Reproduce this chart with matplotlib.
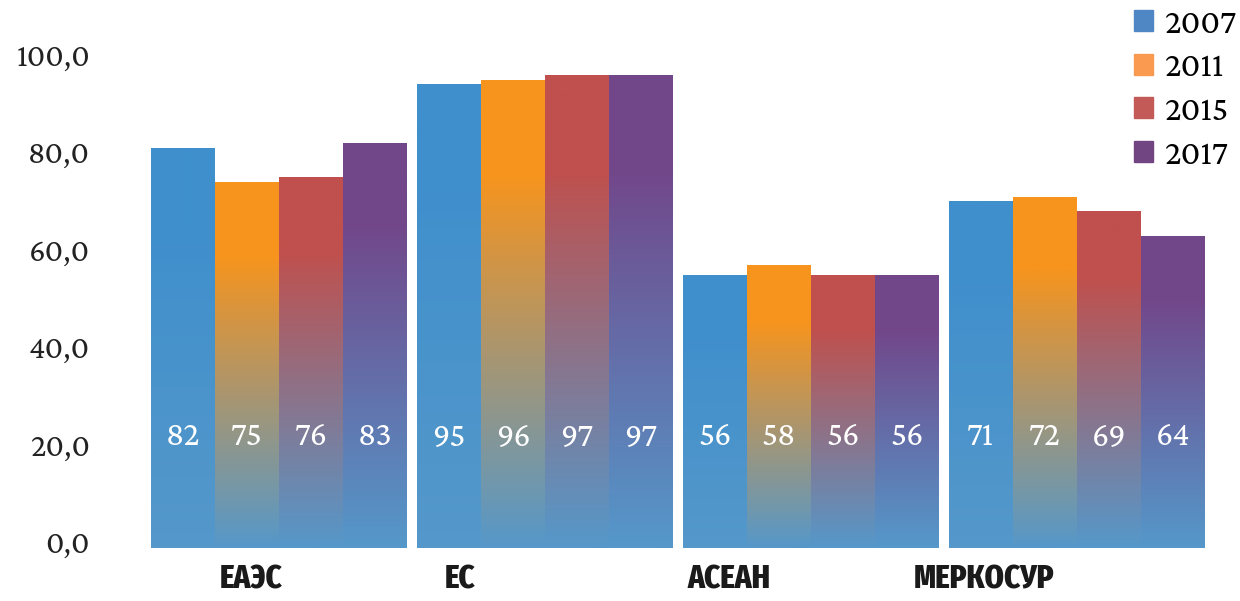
import numpy as np
import matplotlib
matplotlib.use('Agg')
import matplotlib.pyplot as plt
from matplotlib.colors import to_rgb
from matplotlib.patches import Patch
from matplotlib.transforms import ScaledTranslation

groups = ['ЕАЭС', 'ЕС', 'АСЕАН', 'МЕРКОСУР']
years = ['2007', '2011', '2015', '2017']
values = {
    '2007': [82, 95, 56, 71],
    '2011': [75, 96, 58, 72],
    '2015': [76, 97, 56, 69],
    '2017': [83, 97, 56, 64],
}
yticks = [0, 20, 40, 60, 80, 100]

# colours
top_colors = ['#3F8FCD', '#F7941D', '#C0504D', '#72478A']
legend_colors = ['#4F87C4', '#F99A50', '#C35A57', '#714482']
bottom_color = '#5598CA'
label_offsets = [-0.105, -0.32, -0.31, -0.35]

serif = ['Crimson Pro', 'Crimson Text', 'EB Garamond', 'Liberation Serif']
narrow = ['Fira Sans Extra Condensed', 'Roboto Condensed', 'Oswald',
          'IBM Plex Sans Condensed', 'DejaVu Sans']

fig = plt.figure(figsize=(12.4, 6.01), dpi=100)
ax = fig.add_axes([140 / 1240, 53 / 601, (1215 - 140) / 1240, 487.5 / 601])

x = np.arange(len(groups))
w = 64 / 266

def gradient(top, n=200):
    t = np.linspace(0, 1, n)
    k = np.clip(t / 0.8, 0, 1)[:, None]
    c0 = np.array(to_rgb(bottom_color))
    c1 = np.array(to_rgb(top))
    return (c0 * (1 - k) + c1 * k)[:, None, :]

for i, yr in enumerate(years):
    pos = x - 1.5 * w + i * w
    bars = ax.bar(pos, values[yr], width=w, color='none', edgecolor='none')
    img = gradient(top_colors[i])
    for b, v in zip(bars, values[yr]):
        x0 = b.get_x()
        ax.imshow(img, extent=[x0, x0 + b.get_width(), 0, b.get_height()],
                  origin='lower', aspect='auto', zorder=2, interpolation='bilinear')
        ax.text(x0 + b.get_width() / 2, 22.8, str(v), color='white', ha='center',
                va='center', fontsize=24.5, family=serif, zorder=3)

ax.set_xlim(-0.5226, 3.519)
ax.set_ylim(0, 100)
ax.set_yticks(yticks)
ax.set_yticklabels([f'{v:.1f}'.replace('.', ',') for v in yticks], family=serif,
                   fontsize=23.5, color='#222222')
ax.tick_params(axis='y', length=0, pad=36)
up = ScaledTranslation(0, 6 / 100, fig.dpi_scale_trans)
for lab in ax.get_yticklabels():
    lab.set_transform(lab.get_transform() + up)
ax.set_xticks([])
for s in ax.spines.values():
    s.set_visible(False)

for i, g in enumerate(groups):
    ax.text(x[i] + label_offsets[i], -6.6, g, ha='center', va='center', fontsize=24,
            fontweight='heavy', family=narrow, color='#1a1a1a', clip_on=False)

handles = [Patch(color=c) for c in legend_colors]
fig.legend(handles, years, loc='upper right', bbox_to_anchor=(1236 / 1240, 592 / 601),
           frameon=False, prop={'family': serif, 'size': 25}, handlelength=0.55,
           handleheight=0.55, handletextpad=0.3, labelspacing=0.34, borderpad=0,
           borderaxespad=0)

fig.savefig('out.png', dpi=100)
